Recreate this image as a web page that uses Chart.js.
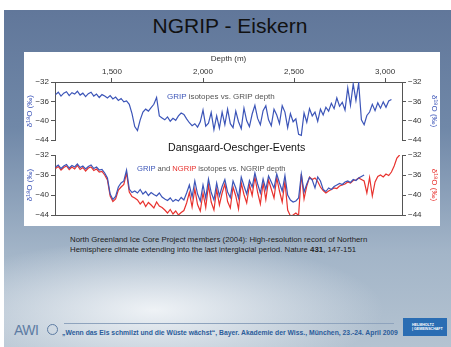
<!DOCTYPE html>
<html lang="de">
<head>
<meta charset="UTF-8">
<title>NGRIP - Eiskern</title>
<script src="https://cdn.jsdelivr.net/npm/chart.js@4.4.0/dist/chart.umd.min.js"></script>
<style>
    body { margin: 0; width: 451px; height: 347px; overflow: hidden; background: #fff; position: relative;
           font-family: "Liberation Sans", Arial, sans-serif; }
    #slide { position: absolute; left: 4px; top: 10px; width: 447px; height: 337px; overflow: hidden;
             background:
               radial-gradient(ellipse 230px 70px at 150px 300px, rgba(242,245,248,0.95), rgba(242,245,248,0) 100%),
               linear-gradient(#61779a 0%, #7088a8 35%, #a3b5c8 72%, #b4c3d1 100%); }
    .abs { position: absolute; white-space: nowrap; }
    #title { left: 0; width: 460px; top: 14px; text-align: center; font-size: 21px; color: #111; }
    #panel { left: 24px; top: 52px; width: 416px; height: 174px; background: #fff; }
    canvas { position: absolute; left: 24px; }
    .note { font-size: 8px; color: #555; }
    .blue { color: #3c55b8; }
    .red { color: #e8322e; }
    #caption { left: 70px; top: 235px; font-size: 7.8px; line-height: 9.5px; color: #222; }
    #awi { left: 14px; top: 322px; font-size: 14px; color: #5d7ca3; letter-spacing: -0.5px; }
    #globe { left: 47px; top: 324px; width: 11px; height: 11px; border-radius: 50%; border: 1.5px solid #5d7ca3; box-sizing: border-box; }
    #footline { left: 64px; top: 323px; width: 330px; height: 1px; background: #8ea3bd; }
    #footer { left: 62px; top: 329px; font-size: 6.8px; font-weight: bold; color: #2b5c9a; }
    #helm { left: 403px; top: 318px; width: 44px; height: 18px; background: #2a6db3; color: #fff; font-size: 3.6px; font-weight: bold; }
</style>
</head>
<body>
<div id="slide"></div>
<div class="abs" id="title">NGRIP - Eiskern</div>
<div class="abs" id="panel"></div>
<canvas id="gripChart" width="416" height="95" style="top:52px"></canvas>
<canvas id="ngripChart" width="416" height="75" style="top:147px"></canvas>
<div class="abs note" style="left:167px; top:92px"><span class="blue">GRIP</span> isotopes vs. GRIP depth</div>
<div class="abs" style="left:168px; top:141px; font-size:10.6px; color:#111">Dansgaard-Oeschger-Events</div>
<div class="abs note" style="left:137px; top:164px; font-size:7.6px"><span class="blue">GRIP</span> and <span class="red">NGRIP</span> isotopes vs. NGRIP depth</div>
<div class="abs" id="caption">North Greenland Ice Core Project members (2004): High-resolution record of Northern<br>Hemisphere climate extending into the last interglacial period. Nature <b>431</b>, 147-151</div>
<div class="abs" id="awi">AWI</div>
<div class="abs" id="globe"></div>
<div class="abs" id="footline"></div>
<div class="abs" id="footer">„Wenn das Eis schmilzt und die Wüste wächst“, Bayer. Akademie der Wiss., München, 23.-24. April 2009</div>
<div class="abs" id="helm"><div style="padding:5px 0 0 9px">HELMHOLTZ<br>| GEMEINSCHAFT</div></div>

<script>
    // depth in metres (shared by all three records)
    const depthM = [
        1190,1205,1220,1235,1250,1265,1280,1295,1310,1325,
        1340,1355,1370,1385,1400,1415,1430,1445,1460,1475,
        1490,1505,1520,1535,1550,1565,1580,1595,1610,1625,
        1640,1655,1670,1685,1700,1715,1730,1745,1760,1775,
        1790,1805,1820,1835,1850,1865,1880,1895,1910,1925,
        1940,1955,1970,1985,2000,2015,2030,2045,2060,2075,
        2090,2105,2120,2135,2150,2165,2180,2195,2210,2225,
        2240,2255,2270,2285,2300,2315,2330,2345,2360,2375,
        2390,2405,2420,2435,2450,2465,2480,2495,2510,2525,
        2540,2555,2570,2585,2600,2615,2630,2645,2660,2675,
        2690,2705,2720,2735,2750,2765,2780,2795,2810,2825,
        2840,2855,2870,2885,2900,2915,2930,2945,2960,2975,
        2990,3005,3020,3035,3050,3065,3080
    ];

    // GRIP d18O vs GRIP depth (upper panel)
    const gripOnGrip = [
        -34.6,-34.1,-34.9,-34.3,-34.0,-34.8,-34.2,-34.5,-33.9,-34.7,
        -34.3,-35.0,-34.4,-34.1,-34.9,-34.5,-35.2,-34.6,-34.9,-35.3,
        -34.8,-35.5,-35.1,-35.8,-35.4,-36.1,-35.9,-36.6,-38.5,-41.2,
        -42.0,-39.8,-38.2,-37.6,-38.0,-37.3,-36.6,-35.2,-39.0,-39.4,
        -39.8,-39.2,-40.1,-39.5,-39.9,-39.0,-38.4,-38.7,-39.6,-40.4,
        -41.0,-40.6,-41.3,-40.2,-37.8,-41.1,-40.5,-38.3,-41.8,-39.0,
        -41.5,-38.2,-40.8,-37.6,-40.6,-41.4,-38.0,-40.2,-41.6,-37.4,
        -40.0,-41.2,-38.6,-36.8,-39.5,-40.8,-37.9,-36.9,-39.8,-41.0,
        -37.6,-38.8,-40.6,-36.9,-38.2,-41.4,-38.5,-40.2,-39.6,-42.8,
        -43.0,-38.4,-40.3,-37.5,-39.0,-38.2,-40.1,-37.6,-38.8,-37.2,
        -38.0,-36.4,-37.5,-35.3,-37.0,-36.2,-37.8,-33.2,-36.8,-32.4,
        -35.8,-32.2,-39.8,-40.8,-38.9,-38.2,-36.6,-37.9,-36.3,-37.4,
        -36.1,-37.2,-35.9,-35.6,null,null,null
    ];

    // GRIP d18O vs NGRIP depth (lower panel, blue)
    const gripOnNgrip = [
        -34.4,-34.0,-34.7,-34.2,-33.9,-34.6,-34.1,-34.4,-33.8,-34.5,
        -34.2,-34.8,-34.3,-34.0,-34.7,-34.4,-35.0,-34.9,-35.6,-36.6,
        -39.8,-40.9,-40.3,-38.4,-37.6,-37.2,-35.0,-38.8,-39.5,-39.2,
        -39.6,-38.9,-39.8,-39.3,-40.1,-39.5,-39.9,-40.2,-39.6,-40.4,
        -40.8,-41.1,-40.6,-41.3,-40.9,-41.2,-40.5,-41.0,-39.6,-38.0,
        -40.4,-37.2,-39.8,-41.2,-38.0,-40.6,-36.8,-39.5,-41.0,-37.6,
        -40.2,-38.3,-36.9,-39.4,-40.5,-37.2,-38.6,-40.6,-36.4,-38.2,
        -39.8,-37.1,-38.4,-35.6,-37.8,-39.6,-36.8,-38.9,-36.2,-37.4,
        -38.6,-35.8,-37.6,-39.2,-36.1,-40.0,-41.0,-41.4,-41.2,-40.6,
        -35.8,-39.4,-37.8,-36.5,-37.0,-38.6,-36.4,-37.2,-38.9,-39.3,
        -38.6,-38.9,-38.3,-38.0,-37.7,-37.9,-37.4,-37.2,-37.5,-36.9,
        -37.1,-36.6,-36.3,-36.0,null,null,null,null,null,null,
        null,null,null,null,null,null,null
    ];

    // NGRIP d18O vs NGRIP depth (lower panel, red)
    const ngripOnNgrip = [
        -34.7,-34.3,-35.0,-34.5,-34.2,-34.9,-34.4,-34.8,-34.1,-34.9,
        -34.5,-35.2,-34.6,-34.4,-35.1,-34.8,-35.4,-35.3,-36.0,-37.0,
        -40.2,-41.3,-40.8,-39.0,-38.4,-37.9,-35.6,-39.4,-40.3,-40.6,
        -41.0,-41.8,-41.2,-42.3,-41.5,-42.0,-42.6,-41.4,-42.2,-42.5,
        -43.0,-43.6,-42.9,-43.8,-43.2,-44.0,-43.5,-43.1,-41.6,-39.5,
        -42.4,-38.8,-41.9,-43.2,-39.6,-42.5,-38.0,-41.4,-43.0,-38.9,
        -42.0,-39.6,-37.8,-41.3,-42.6,-38.4,-40.2,-42.8,-37.6,-39.9,
        -41.6,-38.0,-40.1,-36.4,-39.5,-41.8,-37.6,-40.9,-37.0,-38.8,
        -40.6,-36.6,-39.2,-41.4,-37.3,-43.0,-44.2,-44.0,-43.6,-44.1,
        -35.8,-40.8,-38.2,-36.4,-36.9,-36.6,-37.3,-38.4,-39.1,-39.6,
        -39.2,-38.9,-38.6,-38.7,-38.2,-38.0,-37.8,-37.4,-37.6,-37.1,
        -37.0,-36.6,-36.9,-37.2,-39.6,-36.5,-40.2,-37.4,-36.3,-36.0,
        -36.4,-35.8,-36.1,-35.4,-34.2,-32.6,-32.0
    ];

    const depthTicks = [1500, 2000, 2500, 3000];
    const isoTicks = [-44, -42, -40, -38, -36, -34, -32];

    const blue = '#3c55b8';
    const red = '#e8322e';
    const axisGrey = '#555';

    Chart.defaults.font.family = '"Liberation Sans", Arial, sans-serif';
    Chart.defaults.font.size = 8;
    Chart.defaults.color = '#333';

    function toPoints(values) {
        return depthM.map((d, i) => ({ x: d, y: values[i] }));
    }

    function isoLabel(v) {
        return v % 4 === 0 ? String(v).replace('-', '\u2212') : '';
    }

    function isoAxis(position, width, titleColor) {
        return {
            type: 'linear',
            position: position,
            min: -44,
            max: -32,
            afterBuildTicks: s => { s.ticks = isoTicks.map(v => ({ value: v })); },
            afterFit: s => { s.width = width; },
            ticks: { callback: isoLabel, padding: 2, font: { size: 8 } },
            grid: { drawOnChartArea: false, tickLength: 4, color: axisGrey },
            border: { color: axisGrey },
            title: { display: true, text: 'δ¹⁸O (‰)', color: titleColor, padding: 1, font: { size: 8 } }
        };
    }

    function line(values, color) {
        return {
            data: toPoints(values),
            borderColor: color,
            borderWidth: 1.2,
            pointRadius: 0,
            tension: 0,
            xAxisID: 'x',
            yAxisID: 'y'
        };
    }

    // upper panel: GRIP vs GRIP depth
    new Chart(document.getElementById('gripChart'), {
        type: 'line',
        data: { datasets: [line(gripOnGrip, blue)] },
        options: {
            responsive: false,
            animation: false,
            layout: { padding: { top: 0, bottom: 5, left: 0, right: 0 } },
            plugins: { legend: { display: false }, tooltip: { enabled: false } },
            scales: {
                x: {
                    type: 'linear',
                    position: 'top',
                    min: 1187,
                    max: 3093,
                    afterBuildTicks: s => { s.ticks = depthTicks.map(v => ({ value: v })); },
                    afterFit: s => { s.height = 30; },
                    ticks: { callback: v => v.toLocaleString('en-US'), padding: 1, maxRotation: 0 },
                    grid: { drawOnChartArea: false, tickLength: 4, color: axisGrey },
                    border: { color: axisGrey },
                    title: { display: true, text: 'Depth (m)', padding: { top: 2, bottom: 0 }, font: { size: 8 } }
                },
                y: isoAxis('left', 31, blue),
                y2: isoAxis('right', 38, blue)
            }
        }
    });

    // lower panel: GRIP and NGRIP vs NGRIP depth
    new Chart(document.getElementById('ngripChart'), {
        type: 'line',
        data: { datasets: [line(gripOnNgrip, blue), line(ngripOnNgrip, red)] },
        options: {
            responsive: false,
            animation: false,
            layout: { padding: { top: 8, bottom: 3, left: 0, right: 0 } },
            plugins: { legend: { display: false }, tooltip: { enabled: false } },
            scales: {
                x: {
                    type: 'linear',
                    position: 'bottom',
                    min: 1187,
                    max: 3093,
                    afterBuildTicks: s => { s.ticks = depthTicks.map(v => ({ value: v })); },
                    afterFit: s => { s.height = 4; },
                    ticks: { display: false },
                    grid: { drawOnChartArea: false, drawTicks: false, color: axisGrey },
                    border: { color: axisGrey }
                },
                y: isoAxis('left', 31, blue),
                y2: isoAxis('right', 38, red)
            }
        }
    });
</script>
</body>
</html>
